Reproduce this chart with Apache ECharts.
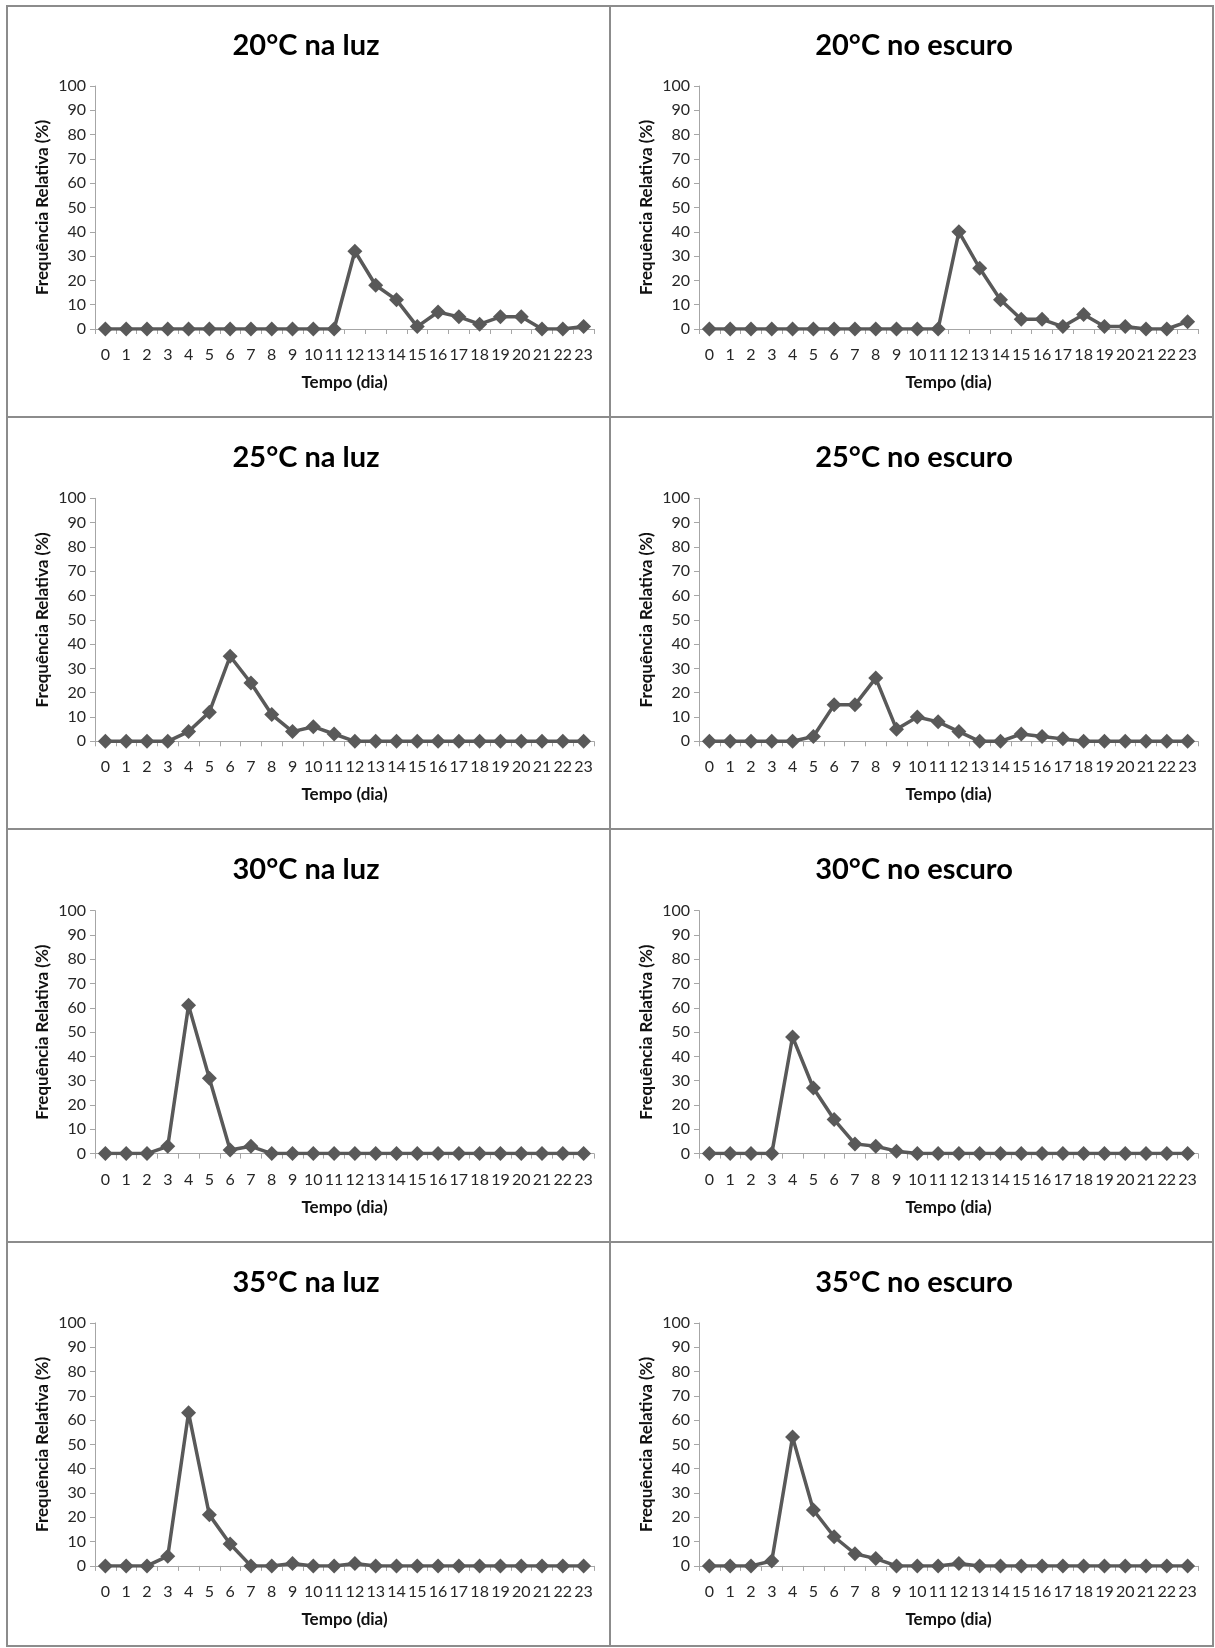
<!DOCTYPE html>
<html>
<head>
<meta charset="utf-8">
<script src="https://cdn.jsdelivr.net/npm/echarts@6/dist/echarts.min.js"></script>
<style>
html,body{margin:0;padding:0;background:#fff;}
#chart{width:1215px;height:1648px;}
</style>
</head>
<body>
<div id="chart"></div>
<script>
// ---- data ----
const categories = ['0','1','2','3','4','5','6','7','8','9','10','11','12','13','14','15','16','17','18','19','20','21','22','23'];
const yTicks = [0,10,20,30,40,50,60,70,80,90,100];
const titles = ['20°C na luz','20°C no escuro','25°C na luz','25°C no escuro','30°C na luz','30°C no escuro','35°C na luz','35°C no escuro'];
const luz20    = [0,0,0,0,0,0,0,0,0,0,0,0,32,18,12,1,7,5,2,5,5,0,0,1];
const escuro20 = [0,0,0,0,0,0,0,0,0,0,0,0,40,25,12,4,4,1,6,1,1,0,0,3];
const luz25    = [0,0,0,0,4,12,35,24,11,4,6,3,0,0,0,0,0,0,0,0,0,0,0,0];
const escuro25 = [0,0,0,0,0,2,15,15,26,5,10,8,4,0,0,3,2,1,0,0,0,0,0,0];
const luz30    = [0,0,0,3,61,31,1.5,3,0,0,0,0,0,0,0,0,0,0,0,0,0,0,0,0];
const escuro30 = [0,0,0,0,48,27,14,4,3,1,0,0,0,0,0,0,0,0,0,0,0,0,0,0];
const luz35    = [0,0,0,4,63,21,9,0,0,1,0,0,1,0,0,0,0,0,0,0,0,0,0,0];
const escuro35 = [0,0,0,2,53,23,12,5,3,0,0,0,1,0,0,0,0,0,0,0,0,0,0,0];
const seriesData = [luz20, escuro20, luz25, escuro25, luz30, escuro30, luz35, escuro35];
const yLabel = 'Frequência Relativa (%)';
const xLabel = 'Tempo (dia)';

// ---- layout ----
const FONT = 'Lato, "Open Sans", sans-serif';
const LABEL_FONT = '"Liberation Sans Narrow", Lato, sans-serif';
const colX = [95, 699];
const titleX = [301, 909];
const rowPitch = 412.3;
const gridTop0 = 86, gridH = 243, gridW = 499;
const boxX = [7, 610, 1213];
const boxY = [6, 417, 829, 1242, 1646];
const lineColor = '#595959';
const axisColor = '#a6a6a6';

const grids = [], xAxes = [], yAxes = [], series = [], titleArr = [], graphics = [];
for (let i = 0; i < 8; i++) {
  const r = Math.floor(i / 2), c = i % 2;
  const top = gridTop0 + rowPitch * r;
  grids.push({left: colX[c], top: top, width: gridW, height: gridH, containLabel: false});
  xAxes.push({
    type: 'category', gridIndex: i, data: categories, boundaryGap: true,
    axisLine: {lineStyle: {color: axisColor, width: 1}},
    axisTick: {show: true, length: 5, lineStyle: {color: axisColor}},
    axisLabel: {interval: 0, margin: 18, fontFamily: LABEL_FONT, fontSize: 16, color: '#262626'},
    name: xLabel, nameLocation: 'middle', nameGap: 45,
    nameTextStyle: {fontFamily: FONT, fontWeight: 'bold', fontSize: 17, color: '#111'}
  });
  yAxes.push({
    type: 'value', gridIndex: i, min: 0, max: 100, interval: 10,
    axisLine: {show: true, lineStyle: {color: axisColor, width: 1}},
    axisTick: {show: true, length: 5, inside: false, lineStyle: {color: axisColor}},
    splitLine: {show: false},
    axisLabel: {margin: 9, fontFamily: LABEL_FONT, fontSize: 16, color: '#262626',
      formatter: v => (yTicks.indexOf(v) >= 0 ? String(v) : '')},
    name: yLabel, nameLocation: 'middle', nameGap: 44, nameRotate: 90,
    nameTextStyle: {fontFamily: FONT, fontWeight: 'bold', fontSize: 17, color: '#111'}
  });
  series.push({
    type: 'line', xAxisIndex: i, yAxisIndex: i, data: seriesData[i],
    symbol: 'diamond', symbolSize: 15,
    lineStyle: {color: lineColor, width: 3.5},
    itemStyle: {color: lineColor},
    animation: false, silent: true
  });
  titleArr.push({
    text: titles[i], left: titleX[c], top: 44 + rowPitch * r - 18,
    textAlign: 'center',
    textStyle: {fontFamily: FONT, fontWeight: 'bold', fontSize: 29, color: '#000'}
  });
}
// panel borders
for (let r = 0; r < 4; r++) {
  for (let c = 0; c < 2; c++) {
    graphics.push({
      type: 'rect', silent: true,
      shape: {x: boxX[c], y: boxY[r], width: boxX[c+1] - boxX[c], height: boxY[r+1] - boxY[r]},
      style: {fill: 'none', stroke: '#8c8c8c', lineWidth: 2}
    });
  }
}

const chart = echarts.init(document.getElementById('chart'), null, {renderer: 'canvas'});
chart.setOption({
  backgroundColor: '#fff',
  animation: false,
  title: titleArr,
  grid: grids,
  xAxis: xAxes,
  yAxis: yAxes,
  series: series,
  graphic: graphics
});
</script>
</body>
</html>
